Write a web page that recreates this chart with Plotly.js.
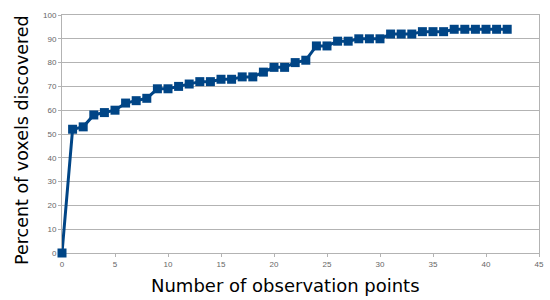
<!DOCTYPE html>
<html>
<head>
<meta charset="utf-8">
<script src="https://cdn.plot.ly/plotly-3.0.1.min.js"></script>
<style>html,body{margin:0;padding:0;background:#fff;}#chart{width:550px;height:300px;}</style>
</head>
<body>
<div id="chart"></div>
<script>
const observationPoints = [0,1,2,3,4,5,6,7,8,9,10,11,12,13,14,15,16,17,18,19,20,21,22,23,24,25,26,27,28,29,30,31,32,33,34,35,36,37,38,39,40,41,42];
const percentDiscovered = [0,52,53,58,59,60,63,64,65,69,69,70,71,72,72,73,73,74,74,76,78,78,80,81,87,87,89,89,90,90,90,92,92,92,93,93,93,94,94,94,94,94,94];
const xTicks = [0,5,10,15,20,25,30,35,40,45];
const yTicks = [0,10,20,30,40,50,60,70,80,90,100];
const xTitle = 'Number of observation points';
const yTitle = 'Percent of voxels discovered';

const trace = {
  x: observationPoints,
  y: percentDiscovered,
  mode: 'lines+markers',
  cliponaxis: false,
  line: {color: '#004586', width: 3},
  marker: {symbol: 'square', size: 9, color: '#004586'},
  hoverinfo: 'none'
};
const layout = {
  width: 550, height: 300,
  margin: {l: 62, r: 11, t: 15, b: 47},
  paper_bgcolor: '#fff', plot_bgcolor: '#fff',
  showlegend: false,
  font: {family: 'DejaVu Sans', color: '#000'},
  xaxis: {
    range: [0, 45], tickvals: xTicks, ticktext: xTicks.map(String),
    showgrid: false, zeroline: false, showline: true, mirror: true,
    linecolor: '#b3b3b3', linewidth: 1, layer: 'below traces',
    ticks: 'outside', ticklen: 3, tickcolor: '#b3b3b3',
    tickfont: {family: 'Liberation Sans', size: 8, color: '#666'}
  },
  yaxis: {
    range: [0, 100], tickvals: yTicks, ticktext: yTicks.map(String),
    showgrid: true, gridcolor: '#b3b3b3', gridwidth: 1, zeroline: false,
    showline: true, mirror: true, linecolor: '#b3b3b3', linewidth: 1, layer: 'below traces',
    ticks: 'outside', ticklen: 3, tickcolor: '#b3b3b3',
    tickfont: {family: 'Liberation Sans', size: 8, color: '#666'}
  },
  annotations: [
    {text: xTitle, xref: 'paper', yref: 'paper', x: (285-62)/477, y: -(285-253)/238,
     xanchor: 'center', yanchor: 'middle', showarrow: false,
     font: {family: 'DejaVu Sans', size: 18, color: '#000'}},
    {text: yTitle, xref: 'paper', yref: 'paper', x: -(62-22)/477, y: (253-140)/238,
     xanchor: 'center', yanchor: 'middle', showarrow: false, textangle: -90,
     font: {family: 'DejaVu Sans', size: 17.5, color: '#000'}}
  ]
};
Plotly.newPlot('chart', [trace], layout, {displayModeBar: false, staticPlot: true});
</script>
</body>
</html>
